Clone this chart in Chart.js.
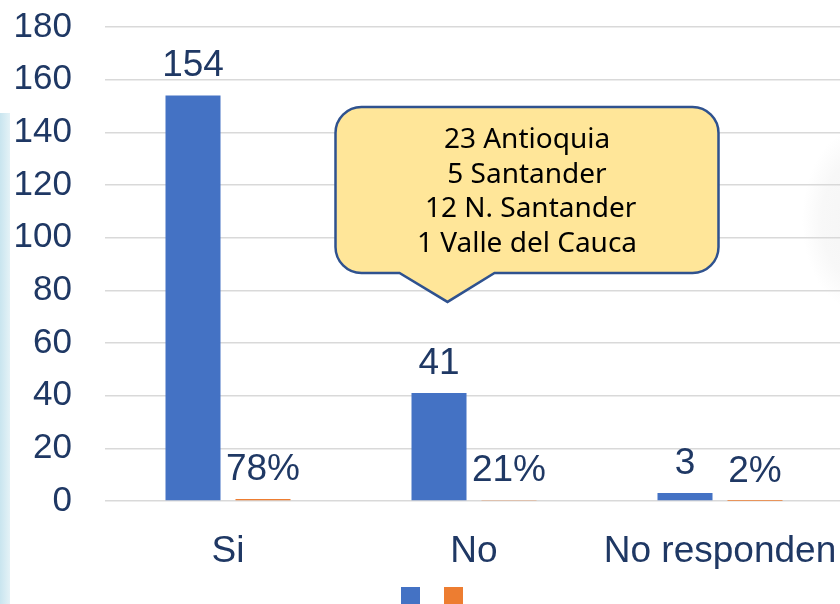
<!DOCTYPE html>
<html>
<head>
<meta charset="utf-8">
<script src="https://cdn.jsdelivr.net/npm/chart.js@4/dist/chart.umd.min.js"></script>
<style>
  html, body { margin: 0; padding: 0; background: #fff; overflow: hidden; }
  #wrap { position: relative; width: 840px; height: 604px; overflow: hidden; }
  /* faint decorations from the slide background */
  .band { position: absolute; left: 0; top: 113px; width: 10px; height: 491px;
          background: linear-gradient(to right, #c9e5ef, #e4f2f7); }
  .blob { position: absolute; left: 800px; top: 125px; width: 120px; height: 190px;
          background: radial-gradient(ellipse at center, #f5f5f5 0%, #f8f8f8 45%, rgba(255,255,255,0) 68%); }
  canvas { position: absolute; left: 0; top: 0; }
</style>
</head>
<body>
<div id="wrap">
  <div class="band"></div>
  <div class="blob"></div>
  <canvas id="chart" width="843" height="616"></canvas>
</div>
<script>
// Datos de la encuesta
const categories = ["Si", "No", "No responden"];
const counts = [154, 41, 3];          // numero de respuestas
const shares = [0.78, 0.21, 0.02];    // porcentaje (se grafica en la misma escala)
const yMin = 0, yMax = 180, yStep = 20;
const calloutLines = ["23 Antioquia", "5 Santander", " 12 N. Santander", "1 Valle del Cauca"];

const navy = "#1f3864";

// Etiquetas encima de cada barra
const barLabels = {
    id: "barLabels",
    afterDatasetsDraw(chart) {
        const ctx = chart.ctx;
        ctx.save();
        ctx.font = "37px 'Liberation Sans', Arial, sans-serif";
        ctx.fillStyle = navy;
        ctx.textAlign = "center";
        ctx.textBaseline = "alphabetic";
        chart.data.datasets.forEach((ds, di) => {
            chart.getDatasetMeta(di).data.forEach((bar, i) => {
                const txt = di === 0 ? String(ds.data[i]) : Math.round(ds.data[i] * 100) + "%";
                ctx.fillText(txt, bar.x, bar.y - 19);
            });
        });
        ctx.restore();
    }
};

// Leyenda un poco corrida a la derecha, como en la diapositiva
const legendShift = {
    id: "legendShift",
    afterLayout(chart) {
        if (chart.legend) {
            chart.legend.left += 13.5;
            chart.legend.right += 13.5;
        }
    }
};

// Globo con el detalle de los "No"
const callout = {
    id: "callout",
    afterDraw(chart) {
        const ctx = chart.ctx;
        const x0 = chart.scales.x.getPixelForValue(1);
        const tipY = chart.scales.y.getPixelForValue(75.6);
        const tipX = x0 - 26.5;
        const left = x0 - 138.5, right = x0 + 244.5;
        const bottom = tipY - 29, top = bottom - 166;
        const r = 26;
        const b1 = x0 - 74.5, b2 = x0 + 20.5;

        ctx.save();
        ctx.beginPath();
        ctx.moveTo(left + r, top);
        ctx.lineTo(right - r, top);
        ctx.arcTo(right, top, right, top + r, r);
        ctx.lineTo(right, bottom - r);
        ctx.arcTo(right, bottom, right - r, bottom, r);
        ctx.lineTo(b2, bottom);
        ctx.lineTo(tipX, tipY);
        ctx.lineTo(b1, bottom);
        ctx.lineTo(left + r, bottom);
        ctx.arcTo(left, bottom, left, bottom - r, r);
        ctx.lineTo(left, top + r);
        ctx.arcTo(left, top, left + r, top, r);
        ctx.closePath();
        ctx.fillStyle = "#ffe699";
        ctx.fill();
        ctx.lineWidth = 2.5;
        ctx.strokeStyle = "#2f528f";
        ctx.stroke();

        ctx.fillStyle = "#000";
        ctx.font = "28px 'Noto Sans', 'Open Sans', sans-serif";
        ctx.textAlign = "center";
        ctx.textBaseline = "alphabetic";
        const cx = (left + right) / 2;
        calloutLines.forEach((line, i) => {
            ctx.fillText(line, cx, top + 41 + i * 34.6);
        });
        ctx.restore();
    }
};

const data = {
    labels: categories,
    datasets: [{
        label: "",
        data: counts,
        backgroundColor: "#4472c4",
        borderWidth: 0
    }, {
        label: "",
        data: shares,
        backgroundColor: "#ed7d31",
        borderWidth: 0
    }]
};

const config = {
    type: "bar",
    data: data,
    options: {
        responsive: false,
        animation: false,
        devicePixelRatio: 1,
        layout: { padding: { left: 0, top: 27, right: 0, bottom: 0 } },
        datasets: {
            bar: { categoryPercentage: 0.569, barPercentage: 0.786 }
        },
        scales: {
            x: {
                grid: { display: false },
                border: { display: false },
                ticks: {
                    padding: 21,
                    color: navy,
                    font: { family: "'Liberation Sans', Arial, sans-serif", size: 37 }
                },
                afterFit(scale) {
                    scale.height = 68;
                    scale.paddingLeft = 0;
                    scale.paddingRight = 0;
                }
            },
            y: {
                min: yMin,
                max: yMax,
                border: { display: false },
                grid: { color: "#d9d9d9", lineWidth: 1.5, drawTicks: false },
                ticks: {
                    stepSize: yStep,
                    padding: 33,
                    color: navy,
                    font: { family: "'Liberation Sans', Arial, sans-serif", size: 35 }
                },
                afterFit(scale) {
                    scale.width = 105;
                    scale.paddingTop = 21;
                    scale.paddingBottom = 21;
                }
            }
        },
        plugins: {
            legend: {
                position: "bottom",
                labels: {
                    boxWidth: 19,
                    boxHeight: 19,
                    padding: 18,
                    font: { size: 12 }
                }
            },
            tooltip: { enabled: false }
        }
    },
    plugins: [barLabels, legendShift, callout]
};

document.addEventListener("DOMContentLoaded", function() {
    const ctx = document.getElementById("chart");
    if (ctx) {
        new Chart(ctx, config);
    }
});
</script>
</body>
</html>
